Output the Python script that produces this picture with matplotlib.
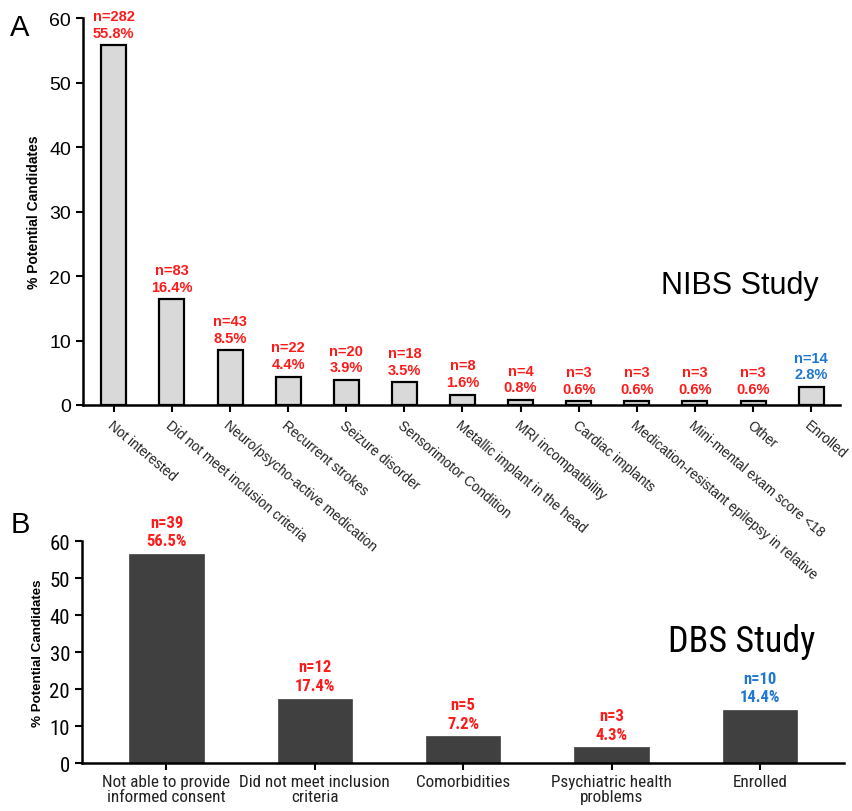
import matplotlib
matplotlib.use("Agg")
import matplotlib.pyplot as plt
from matplotlib import font_manager
from matplotlib.font_manager import FontProperties

plt.rcParams['font.family'] = ['Liberation Sans', 'DejaVu Sans']

# find a condensed / narrow sans font if one is installed
def find_narrow(bold=False):
    prefs = ['liberationsansnarrow', 'robotocondensed', 'dejavusanscondensed',
             'opensanscondensed', 'notosanscondensed', 'condensed', 'narrow']
    cands = []
    for f in font_manager.fontManager.ttflist:
        fn = f.fname.lower().replace('-', '').replace('_', '').replace(' ', '')
        if 'mono' in fn or 'serif' in fn or 'italic' in fn or 'oblique' in fn:
            continue
        isbold = 'bold' in fn
        if isbold != bold:
            continue
        if 'light' in fn or 'thin' in fn or 'black' in fn or 'medium' in fn or 'semi' in fn or 'extra' in fn:
            continue
        for rank, p in enumerate(prefs):
            if p in fn:
                cands.append((rank, f.fname))
                break
    if cands:
        cands.sort()
        return cands[0][1]
    return None

nreg = find_narrow(False)
nbold = find_narrow(True)

def nprop(size, bold=False):
    if bold and nbold:
        return FontProperties(fname=nbold, size=size)
    if nreg:
        return FontProperties(fname=nreg, size=size, weight='bold' if bold else 'normal')
    return FontProperties(family='Liberation Sans', size=size * 0.88,
                          weight='bold' if bold else 'normal')

# ---- Data ----
nibs_categories = ["Not interested", "Did not meet inclusion criteria",
                   "Neuro/psycho-active medication", "Recurrent strokes",
                   "Seizure disorder", "Sensorimotor Condition",
                   "Metallic implant in the head", "MRI incompatibility",
                   "Cardiac implants", "Medication-resistant epilepsy in relative",
                   "Mini-mental exam score <18", "Other", "Enrolled"]
nibs_pct = [55.8, 16.4, 8.5, 4.4, 3.9, 3.5, 1.6, 0.8, 0.6, 0.6, 0.6, 0.6, 2.8]
nibs_n = [282, 83, 43, 22, 20, 18, 8, 4, 3, 3, 3, 3, 14]

dbs_categories = ["Not able to provide\ninformed consent",
                  "Did not meet inclusion\ncriteria", "Comorbidities",
                  "Psychiatric health\nproblems", "Enrolled"]
dbs_pct = [56.5, 17.4, 7.2, 4.3, 14.4]
dbs_n = [39, 12, 5, 3, 10]

RED = '#ff1a1a'
BLUE = '#1f78d1'

fig = plt.figure(figsize=(8.53, 8.12), dpi=100)

# ---- Panel B (drawn first so panel A tick labels sit on top) ----
axB = fig.add_axes([0.096, 0.0591, 0.894, 0.2734])
axB.patch.set_alpha(0)
xb = list(range(len(dbs_categories)))
axB.bar(xb, dbs_pct, width=0.5, color='#404040', edgecolor='#404040', linewidth=0.5, zorder=2)
axB.set_xlim(-0.57, 4.57)
axB.set_ylim(0, 60)
axB.set_yticks([0, 10, 20, 30, 40, 50, 60])
axB.set_xticks(xb)
axB.set_xticklabels(dbs_categories, color='#222222', linespacing=0.98)
for lbl in axB.get_xticklabels():
    lbl.set_fontproperties(nprop(12.3))
for lbl in axB.get_yticklabels():
    lbl.set_fontproperties(nprop(15))
axB.tick_params(axis='y', length=5, width=1.5, direction='out')
axB.tick_params(axis='x', length=5, width=1.5, direction='out', pad=3)
for s in ['top', 'right']:
    axB.spines[s].set_visible(False)
for s in ['left', 'bottom']:
    axB.spines[s].set_linewidth(1.8)
axB.set_ylabel('% Potential Candidates', fontsize=9.6, fontweight='bold', labelpad=4)
for i, (p, n) in enumerate(zip(dbs_pct, dbs_n)):
    c = BLUE if dbs_categories[i] == 'Enrolled' else RED
    axB.annotate(f"n={n}\n{p}%", (i, p), xytext=(0, 4), textcoords='offset points',
                 ha='center', va='bottom', color=c, fontproperties=nprop(12, True),
                 linespacing=1.3)
axB.text(0.865, 0.55, 'DBS Study', transform=axB.transAxes,
         ha='center', va='center', fontproperties=nprop(26))
fig.text(0.012, 0.353, 'B', fontsize=21, ha='left', va='center')

# ---- Panel A ----
axA = fig.add_axes([0.0973, 0.5, 0.8877, 0.4766])
axA.patch.set_alpha(0)
xa = list(range(len(nibs_categories)))
axA.bar(xa, nibs_pct, width=0.43, color='#d9d9d9', edgecolor='black', linewidth=1.6, zorder=2)
axA.set_xlim(-0.53, 12.5)
axA.set_ylim(0, 60)
axA.set_yticks([0, 10, 20, 30, 40, 50, 60])
axA.tick_params(axis='y', labelsize=14, length=5, width=1.5, direction='out')
axA.tick_params(axis='x', length=5, width=1.5, direction='out', pad=4)
axA.set_xticks(xa)
axA.set_xticklabels(nibs_categories, rotation=-40, ha='left', va='top',
                    rotation_mode='anchor', fontsize=9.8, color='#222222')
for s in ['top', 'right']:
    axA.spines[s].set_visible(False)
for s in ['left', 'bottom']:
    axA.spines[s].set_linewidth(1.8)
axA.set_ylabel('% Potential Candidates', fontsize=10, fontweight='bold', labelpad=6)
for i, (p, n) in enumerate(zip(nibs_pct, nibs_n)):
    c = BLUE if nibs_categories[i] == 'Enrolled' else RED
    axA.annotate(f"n={n}\n{p}%", (i, p), xytext=(0, 4), textcoords='offset points',
                 ha='center', va='bottom', color=c, fontsize=10.5, fontweight='bold',
                 linespacing=1.25)
axA.text(0.867, 0.31, 'NIBS Study', transform=axA.transAxes, fontsize=22,
         ha='center', va='center')
fig.text(0.012, 0.965, 'A', fontsize=21, ha='left', va='center')

fig.savefig('out.png', dpi=100)
